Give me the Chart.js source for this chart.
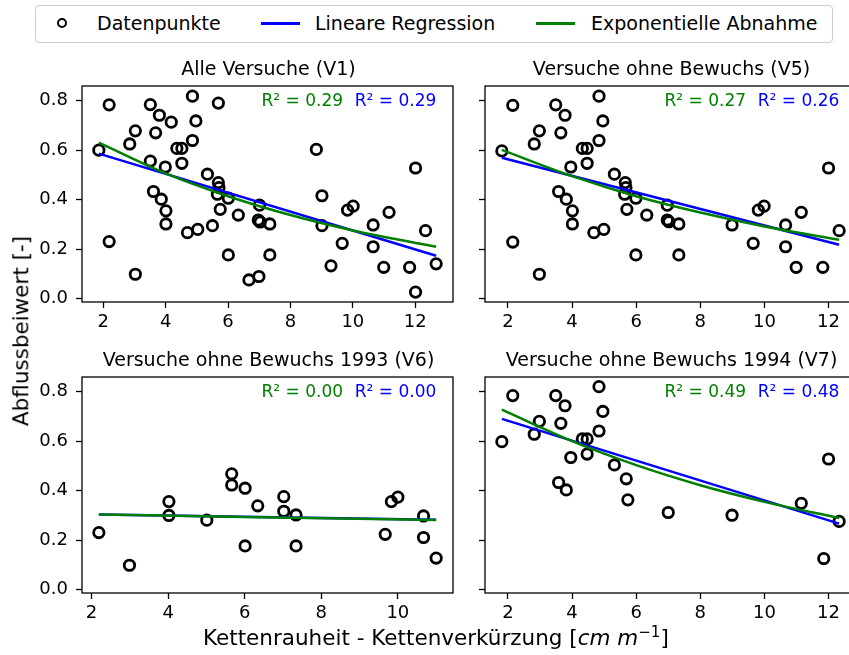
<!DOCTYPE html>
<html><head><meta charset="utf-8">
<script src="https://cdn.jsdelivr.net/npm/chart.js@4.4.1/dist/chart.umd.min.js"></script>
<style>
html,body{margin:0;padding:0;background:#fff;}
body{width:849px;height:655px;overflow:hidden;position:relative;font-family:"DejaVu Sans",sans-serif;}
canvas{position:absolute;}
.t{position:absolute;white-space:nowrap;line-height:1;color:#000;}
</style></head><body>
<script>
// ---------------- DATA ----------------
const v1X = [1.86,2.19,2.19,3.03,2.85,3.03,3.51,3.80,3.68,4.18,3.51,3.99,3.61,3.86,4.01,4.01,4.36,4.52,4.52,4.86,4.86,4.97,4.70,5.03,5.34,5.50,5.69,5.69,5.71,5.66,5.75,6.01,6.01,6.33,6.67,6.99,7.01,6.97,7.03,7.34,7.34,8.83,9.01,9.01,9.30,9.66,9.83,10.01,10.65,10.65,11.16,10.99,11.82,12.01,12.01,12.33,12.67];
const v1Y = [0.600,0.783,0.231,0.099,0.625,0.678,0.784,0.741,0.670,0.713,0.556,0.532,0.433,0.402,0.355,0.302,0.607,0.607,0.547,0.639,0.818,0.718,0.267,0.280,0.503,0.295,0.790,0.469,0.449,0.422,0.361,0.406,0.177,0.338,0.076,0.090,0.378,0.318,0.310,0.302,0.177,0.603,0.416,0.295,0.133,0.224,0.358,0.374,0.298,0.210,0.349,0.127,0.127,0.528,0.027,0.275,0.141];

const v5X = [1.81,2.15,2.15,2.98,2.82,2.98,3.49,3.78,3.65,3.58,3.82,3.96,4.01,4.01,4.32,4.47,4.47,4.84,4.84,4.96,4.68,4.99,5.32,5.66,5.68,5.64,5.71,5.99,5.99,6.33,6.97,6.97,7.02,7.33,7.33,8.99,9.65,9.81,9.99,10.66,10.66,11.15,10.99,11.82,12.00,12.33];
const v5Y = [0.597,0.781,0.229,0.099,0.625,0.678,0.783,0.741,0.670,0.433,0.402,0.532,0.355,0.302,0.607,0.607,0.547,0.639,0.818,0.718,0.267,0.280,0.503,0.469,0.449,0.422,0.361,0.406,0.177,0.338,0.378,0.318,0.311,0.302,0.177,0.298,0.224,0.358,0.374,0.298,0.210,0.349,0.127,0.127,0.528,0.275];

const v6X = [2.19,2.99,4.02,4.02,5.01,5.66,5.66,6.01,6.01,6.34,7.02,7.02,7.34,7.34,9.67,9.83,10.00,10.67,10.67,11.00];
const v6Y = [0.231,0.099,0.356,0.300,0.281,0.468,0.423,0.410,0.177,0.339,0.376,0.317,0.302,0.177,0.224,0.356,0.374,0.298,0.211,0.128];

const v7X = [1.81,2.15,2.82,2.98,3.49,3.78,3.65,3.58,3.82,3.96,4.32,4.47,4.47,4.84,4.84,4.96,5.32,5.69,5.74,7.00,8.99,11.15,11.85,12.00,12.33];
const v7Y = [0.598,0.784,0.628,0.680,0.784,0.743,0.672,0.433,0.403,0.534,0.609,0.609,0.548,0.641,0.820,0.720,0.504,0.448,0.363,0.312,0.301,0.349,0.126,0.528,0.276];

// fitted lines
const linV1X = [1.86,12.67], linV1Y = [0.586,0.174];
const expV1X = [1.86,4,6,8,10,12.67], expV1Y = [0.630,0.506,0.414,0.338,0.276,0.210];
const linV5X = [1.81,12.33], linV5Y = [0.569,0.218];
const expV5X = [1.81,4,6,8,10,12.33], expV5Y = [0.601,0.495,0.414,0.348,0.292,0.238];
const linV6X = [2.19,11.00], linV6Y = [0.304,0.283];
const expV6X = [2.19,6,11.00], expV6Y = [0.304,0.294,0.282];
const linV7X = [1.81,12.33], linV7Y = [0.690,0.267];
const expV7X = [1.81,4,6,8,10,12.33], expV7Y = [0.727,0.600,0.503,0.422,0.355,0.290];

const titles = ["Alle Versuche (V1)","Versuche ohne Bewuchs (V5)","Versuche ohne Bewuchs 1993 (V6)","Versuche ohne Bewuchs 1994 (V7)"];
const r2Exp = ["0.29","0.27","0.00","0.49"];
const r2Lin = ["0.29","0.26","0.00","0.48"];
const yTicks = [0,0.2,0.4,0.6,0.8];
const xTicksA = [2,4,6,8,10,12];
const xTicksV6 = [2,4,6,8,10];
const legendLabels = ["Datenpunkte","Lineare Regression","Exponentielle Abnahme"];
const yLabel = "Abflussbeiwert [-]";
const xLabelMain = "Kettenrauheit - Kettenverkürzung [";
const xLabelUnit = "cm m";
const xLabelExp = "−1";

// ---------------- LAYOUT ----------------
const FONT = "DejaVu Sans";
const YW = 82, TP = 26, RP = 6, XH = 40;
const zip = (xs, ys) => xs.map((x, i) => ({x, y: ys[i]}));

const panels = [
  {left:82, top:86, w:373, h:216, xmin:1.32, xmax:13.21, xt:xTicksA, ylab:true,
   x:v1X, y:v1Y, lx:linV1X, ly:linV1Y, ex:expV1X, ey:expV1Y},
  {left:485, top:86, w:373, h:216, xmin:1.284, xmax:12.856, xt:xTicksA, ylab:false,
   x:v5X, y:v5Y, lx:linV5X, ly:linV5Y, ex:expV5X, ey:expV5Y},
  {left:82, top:377, w:373, h:216, xmin:1.75, xmax:11.44, xt:xTicksV6, ylab:true,
   x:v6X, y:v6Y, lx:linV6X, ly:linV6Y, ex:expV6X, ey:expV6Y},
  {left:485, top:377, w:373, h:216, xmin:1.284, xmax:12.856, xt:xTicksA, ylab:false,
   x:v7X, y:v7Y, lx:linV7X, ly:linV7Y, ex:expV7X, ey:expV7Y}
];

const framePlugin = {
  id: 'frame',
  afterDraw(chart) {
    const {ctx, chartArea: a} = chart;
    ctx.save();
    ctx.strokeStyle = '#000';
    ctx.lineWidth = 1.3;
    ctx.strokeRect(a.left, a.top, a.right - a.left, a.bottom - a.top);
    ctx.restore();
  }
};

function addText(txt, x, baseline, size, opts = {}) {
  const d = document.createElement('div');
  d.className = 't';
  d.textContent = txt;
  d.style.fontSize = size + 'px';
  d.style.left = x + 'px';
  d.style.top = (baseline - 0.846 * size) + 'px';
  if (opts.color) d.style.color = opts.color;
  if (opts.align === 'right') d.style.transform = 'translateX(-100%)';
  if (opts.align === 'center') d.style.transform = 'translateX(-50%)';
  document.body.appendChild(d);
  return d;
}

panels.forEach((p, i) => {
  const cv = document.createElement('canvas');
  const W = YW + p.w + RP, H = TP + p.h + XH;
  cv.width = W; cv.height = H;
  cv.style.width = W + 'px'; cv.style.height = H + 'px';
  cv.style.left = (p.left - YW) + 'px';
  cv.style.top = (p.top - TP) + 'px';
  document.body.appendChild(cv);

  const tickFont = {family: FONT, size: 18};
  new Chart(cv, {
    type: 'scatter',
    data: {datasets: [
      {type: 'line', data: zip(p.ex, p.ey), borderColor: 'green', borderWidth: 2.5,
       pointRadius: 0, fill: false, cubicInterpolationMode: 'monotone'},
      {type: 'line', data: zip(p.lx, p.ly), borderColor: 'blue', borderWidth: 2.5,
       pointRadius: 0, fill: false},
      {data: zip(p.x, p.y), pointStyle: 'circle', pointRadius: 5.2, pointBorderWidth: 2.8,
       pointBorderColor: '#000', pointBackgroundColor: 'rgba(0,0,0,0)', showLine: false}
    ]},
    options: {
      responsive: false, animation: false, devicePixelRatio: 1, events: [],
      layout: {padding: {top: TP, right: RP, left: 0, bottom: 0}},
      plugins: {legend: {display: false}, tooltip: {enabled: false}, title: {display: false}},
      scales: {
        x: {type: 'linear', min: p.xmin, max: p.xmax,
            afterBuildTicks: a => { a.ticks = p.xt.map(v => ({value: v})); },
            afterFit: s => { s.height = XH; },
            ticks: {font: tickFont, color: '#000', padding: 4, maxRotation: 0, autoSkip: false,
                    callback: v => String(v)},
            grid: {drawOnChartArea: false, drawTicks: true, tickLength: 6, tickWidth: 1.3, tickColor: '#000'},
            border: {display: false}},
        y: {type: 'linear', min: -0.013, max: 0.859,
            afterBuildTicks: a => { a.ticks = yTicks.map(v => ({value: v})); },
            afterFit: s => { s.width = YW; },
            ticks: {font: tickFont, color: '#000', padding: 8,
                    callback: v => p.ylab ? v.toFixed(1) : ''},
            grid: {drawOnChartArea: false, drawTicks: true, tickLength: 6, tickWidth: 1.3, tickColor: '#000'},
            border: {display: false}}
      }
    },
    plugins: [framePlugin]
  });

  addText(titles[i], p.left + p.w / 2, p.top - 11, 19, {align: 'center'});
  addText("R² = " + r2Exp[i], p.left + 0.70 * p.w, p.top + 20.8, 17, {align: 'right', color: 'green'});
  addText("R² = " + r2Lin[i], p.left + 0.95 * p.w, p.top + 20.8, 17, {align: 'right', color: 'blue'});
});

// ---------------- LEGEND ----------------
const lg = document.createElement('div');
lg.style.cssText = 'position:absolute;left:35px;top:5px;width:796px;height:36px;border:1px solid #cccccc;border-radius:4px;background:#fff;';
document.body.appendChild(lg);
const LC = 23.5, LS = 19;
const mk = document.createElement('div');
mk.style.cssText = `position:absolute;left:${63-5.9}px;top:${LC-5.9}px;width:6.2px;height:6.2px;border:2.8px solid #000;border-radius:50%;`;
document.body.appendChild(mk);
function legLine(x0, x1, color) {
  const l = document.createElement('div');
  l.style.cssText = `position:absolute;left:${x0}px;top:${LC-1.25}px;width:${x1-x0}px;height:2.5px;background:${color};`;
  document.body.appendChild(l);
}
legLine(261, 300, 'blue');
legLine(536, 575, 'green');
addText(legendLabels[0], 97, LC + 7, LS);
addText(legendLabels[1], 315, LC + 7, LS);
addText(legendLabels[2], 591, LC + 7, LS);

// ---------------- AXIS LABELS ----------------
const yl = document.createElement('div');
yl.className = 't';
yl.textContent = yLabel;
yl.style.fontSize = '21.5px';
yl.style.left = '21px'; yl.style.top = '331px';
yl.style.transform = 'translate(-50%,-50%) rotate(-90deg)';
document.body.appendChild(yl);

const xl = addText(xLabelMain, 203, 645, 21.5);
const it = document.createElement('span');
it.style.fontStyle = 'italic';
it.textContent = xLabelUnit;
xl.appendChild(it);
const sp = document.createElement('span');
sp.style.cssText = 'font-size:0.7em;position:relative;top:-0.55em;';
sp.textContent = xLabelExp;
xl.appendChild(sp);
xl.appendChild(document.createTextNode("]"));
</script>
</body></html>
